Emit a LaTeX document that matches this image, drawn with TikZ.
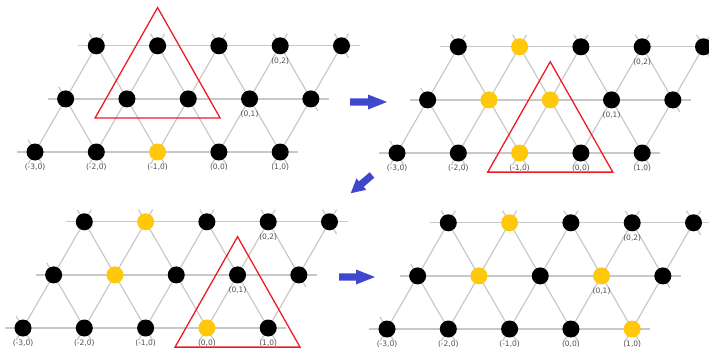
\documentclass[tikz,border=0pt]{standalone}
\usepackage{fontspec}
\setmainfont{DejaVu Sans}
\usetikzlibrary{calc,backgrounds}
\definecolor{gridgray}{RGB}{200,200,200}
\definecolor{ylw}{RGB}{255,200,10}
\definecolor{arrowblue}{RGB}{63,72,204}
\definecolor{lblgray}{RGB}{80,80,80}
\definecolor{trired}{RGB}{237,28,36}
\tikzset{
  dot/.style={circle, fill=black, minimum size=17pt, inner sep=0pt},
  gridline/.style={draw=gridgray, line width=1.2pt},
  stubd/.style={shorten <=-14pt, shorten >=-14pt},
  stubh/.style={shorten <=-18pt, shorten >=-18pt},
  lbl/.style={font=\fontsize{7.5}{8}\selectfont, text=lblgray, inner sep=0pt},
  tri/.style={draw=trired, line width=1.3pt, line join=miter},
  col/A-0-2/.style={fill=ylw},
  col/B-2-1/.style={fill=ylw}, col/B-1-1/.style={fill=ylw},
  col/B-1-2/.style={fill=ylw}, col/B-0-2/.style={fill=ylw},
  col/C-2-1/.style={fill=ylw}, col/C-1-1/.style={fill=ylw},
  col/C-0-3/.style={fill=ylw},
  col/D-2-1/.style={fill=ylw}, col/D-1-1/.style={fill=ylw},
  col/D-1-3/.style={fill=ylw}, col/D-0-4/.style={fill=ylw},
}
% #1 prefix, #2 origin x, #3 origin y (image pixels, y down)
\newcommand\lattice[3]{%
  \foreach \j in {0,1,2}{%
    \foreach \i in {0,...,4}{%
      \node[dot, col/#1-\j-\i/.try] (#1-\j-\i) at ({#2+(\i+\j/2)*61.3},{#3-\j*53.1}) {};
    }%
  }%
  \begin{pgfonlayer}{background}
    \foreach \j in {0,1,2}
      \draw[gridline, stubh] (#1-\j-0.center) -- (#1-\j-4.center);
    \foreach \i in {0,...,4}
      \draw[gridline, stubd] (#1-0-\i.center) -- (#1-2-\i.center);
    \foreach \a/\b in {0-1/1-0, 0-2/2-0, 0-3/2-1, 0-4/2-2, 1-4/2-3}
      \draw[gridline, stubd] (#1-\a.center) -- (#1-\b.center);
    \foreach \a in {0-0, 2-4}
      \draw[gridline] ($(#1-\a)+(7,12.12)$) -- ($(#1-\a)+(-7,-12.12)$);
  \end{pgfonlayer}
  \node[lbl] (#1-l0) at ([yshift=-15pt]#1-0-0.center) {(-3,0)};
  \node[lbl] (#1-l1) at ([yshift=-15pt]#1-0-1.center) {(-2,0)};
  \node[lbl] (#1-l2) at ([yshift=-15pt]#1-0-2.center) {(-1,0)};
  \node[lbl] (#1-l3) at ([yshift=-15pt]#1-0-3.center) {(0,0)};
  \node[lbl] (#1-l4) at ([yshift=-15pt]#1-0-4.center) {(1,0)};
  \node[lbl] (#1-l5) at ([yshift=-15pt]#1-1-3.center) {(0,1)};
  \node[lbl] (#1-l6) at ([yshift=-15pt]#1-2-3.center) {(0,2)};
}
% red triangle around three nodes
\newcommand\redtri[4]{%
  \coordinate (#1) at ($0.33333*(#2)+0.33333*(#3)+0.33334*(#4)$);
  \draw[tri] ($(#1)+(0,-73.6)$) -- ($(#1)+(62.5,36.8)$) -- ($(#1)+(-62.5,36.8)$) -- cycle;
}
% block arrow: x, y, angle, length, head length
\newcommand\barr[5]{%
  \fill[arrowblue, shift={(#1,#2)}, rotate=#3]
    (0,-3.6) -- ({#4-#5},-3.6) -- ({#4-#5},-7.5) -- (#4,0) -- ({#4-#5},7.5) -- ({#4-#5},3.6) -- (0,3.6) -- cycle;
}
\begin{document}
\begin{tikzpicture}[x=1pt, y=-1pt]
  \useasboundingbox (0,0) rectangle (709,356);
  \lattice{A}{35}{152}
  \lattice{B}{397}{153}
  \lattice{C}{23}{328}
  \lattice{D}{387}{329}
  \redtri{A-c}{A-2-1}{A-1-1}{A-1-2}
  \redtri{B-c}{B-1-2}{B-0-2}{B-0-3}
  \redtri{C-c}{C-1-3}{C-0-3}{C-0-4}
  \barr{350}{102}{0}{37}{19}
  \barr{372}{175}{220.6}{28}{14}
  \barr{339}{277}{0}{36}{19}
\end{tikzpicture}
\end{document}
